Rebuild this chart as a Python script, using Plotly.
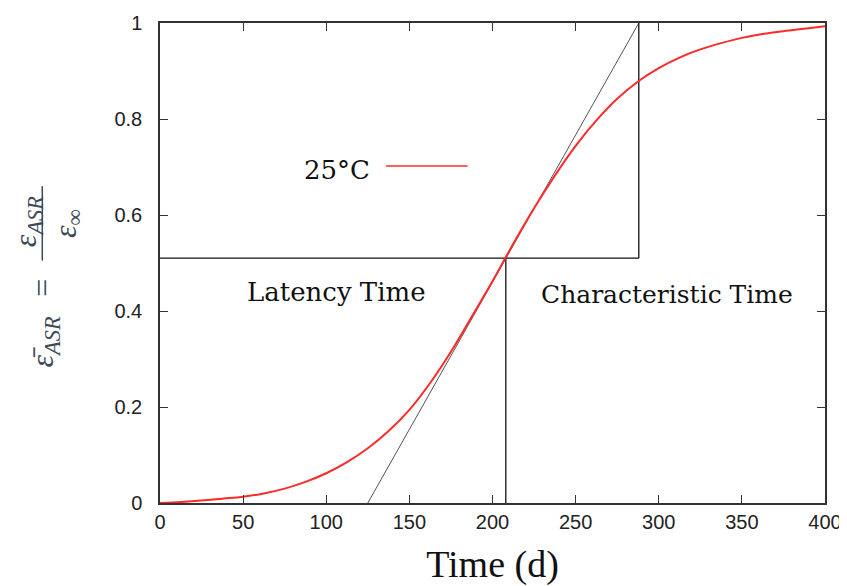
import plotly.graph_objects as go

# Red curve (25°C)
time_days = [0, 12.5, 25, 37.5, 50, 62.5, 75, 87.5, 100, 112.5, 125, 137.5, 150, 162.5, 175, 187.5, 200,
             212.5, 225, 237.5, 250, 262.5, 275, 287.5, 300, 312.5, 325, 337.5, 350, 362.5, 375, 387.5, 400]
expansion = [0.0, 0.002, 0.005, 0.009, 0.013, 0.020, 0.030, 0.044, 0.062, 0.085, 0.114, 0.150, 0.194,
             0.250, 0.315, 0.388, 0.462, 0.540, 0.614, 0.682, 0.744, 0.797, 0.842, 0.878, 0.906, 0.928,
             0.945, 0.958, 0.969, 0.977, 0.983, 0.988, 0.993]

# Construction lines
latency_time = 208
characteristic_end = 288
tangent_start = 125
half_level = 0.51

x_ticks = [0, 50, 100, 150, 200, 250, 300, 350, 400]
y_ticks = [0, 0.2, 0.4, 0.6, 0.8, 1]
y_tick_labels = ["0", "0.2", "0.4", "0.6", "0.8", "1"]

serif_title = "Liberation Serif, Times New Roman, serif"
serif_text = "DejaVu Serif, serif"
sans = "Liberation Sans, Arial, sans-serif"

fig = go.Figure()

# tangent line
fig.add_trace(go.Scatter(x=[tangent_start, characteristic_end], y=[0, 1], mode="lines",
                         line=dict(color="#555555", width=1), showlegend=False, hoverinfo="skip"))
# horizontal level line
fig.add_trace(go.Scatter(x=[0, characteristic_end], y=[half_level, half_level], mode="lines",
                         line=dict(color="#111111", width=1.3), showlegend=False, hoverinfo="skip"))
# latency vertical
fig.add_trace(go.Scatter(x=[latency_time, latency_time], y=[0, half_level], mode="lines",
                         line=dict(color="#111111", width=1.3), showlegend=False, hoverinfo="skip"))
# characteristic vertical
fig.add_trace(go.Scatter(x=[characteristic_end, characteristic_end], y=[half_level, 1], mode="lines",
                         line=dict(color="#111111", width=1.3), showlegend=False, hoverinfo="skip"))
# red curve
fig.add_trace(go.Scatter(x=time_days, y=expansion, mode="lines", name="25°C",
                         line=dict(color="#ff2a2a", width=2, shape="spline", smoothing=1.0),
                         showlegend=False))

# legend sample
fig.add_annotation(x=106.5, y=0.694, xref="x", yref="y", text="25°C", showarrow=False,
                   font=dict(family=serif_text, size=26, color="#111111"))
fig.add_shape(type="line", x0=136, x1=185, y0=0.702, y1=0.702, xref="x", yref="y",
              line=dict(color="#ff2a2a", width=1.5))

fig.add_annotation(x=106, y=0.44, xref="x", yref="y", text="Latency Time", showarrow=False,
                   font=dict(family=serif_text, size=26, color="#111111"))
fig.add_annotation(x=305, y=0.435, xref="x", yref="y", text="Characteristic Time", showarrow=False,
                   font=dict(family=serif_text, size=25, color="#111111"))

# y-axis label built from rotated pieces
lab_col = "#3c4a58"
common_lab = dict(xref="paper", yref="paper", textangle=-90, showarrow=False,
                  xanchor="center", yanchor="middle")
fig.add_annotation(x=-0.200, y=0.585, text="<i>ε<sub>ASR</sub></i>",
                   font=dict(family=serif_title, size=32, color=lab_col), **common_lab)
fig.add_shape(type="line", x0=-0.177, x1=-0.177, y0=0.505, y1=0.66, xref="paper", yref="paper",
              line=dict(color=lab_col, width=1.5))
fig.add_annotation(x=-0.140, y=0.583, text="<i>ε<sub>∞</sub></i>",
                   font=dict(family=serif_title, size=32, color=lab_col), **common_lab)
fig.add_annotation(x=-0.177, y=0.449, text="=",
                   font=dict(family=serif_title, size=32, color=lab_col), **common_lab)
fig.add_annotation(x=-0.174, y=0.335, text="<i>ε\u0304<sub>ASR</sub></i>",
                   font=dict(family=serif_title, size=32, color=lab_col), **common_lab)

axis_common = dict(showline=True, linecolor="#333333", linewidth=1.5, mirror="ticks",
                   ticks="inside", ticklen=8, tickwidth=1.3, tickcolor="#333333",
                   showgrid=False, zeroline=False, automargin=False,
                   tickfont=dict(family=sans, size=20, color="#222222"))

fig.update_xaxes(range=[0, 400], tickvals=x_ticks, ticktext=[str(v) for v in x_ticks],
                 title=dict(text="Time (d)", font=dict(family=serif_title, size=38, color="#111111"), standoff=31),
                 **axis_common)
fig.update_yaxes(range=[0, 1], tickvals=y_ticks, ticktext=y_tick_labels, ticklabelstandoff=12,
                 **axis_common)

# page body has an 8px margin, so the figure is sized and offset to compensate
fig.update_layout(width=839, height=578, margin=dict(l=152, r=22, t=15, b=83),
                  plot_bgcolor="white", paper_bgcolor="white", showlegend=False)

fig.write_html("out.html")
